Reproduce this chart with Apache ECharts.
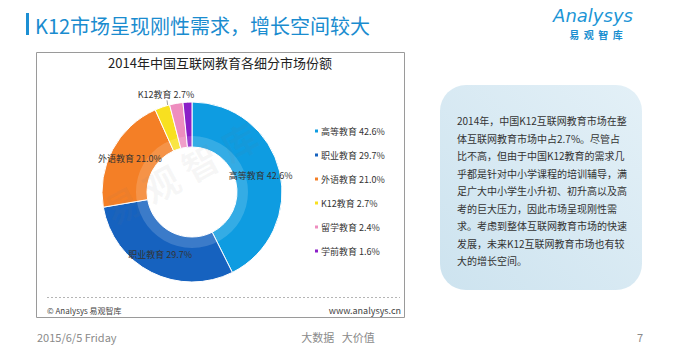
<!DOCTYPE html>
<html>
<head>
<meta charset="utf-8">
<script src="https://cdn.jsdelivr.net/npm/echarts@6/dist/echarts.min.js"></script>
<style>
  html, body { margin: 0; padding: 0; background: #ffffff; }
  #main { width: 679px; height: 355px; }
</style>
</head>
<body>
<div id="main"></div>
<script>
// ---- data ----
const categories = ['高等教育', '职业教育', '外语教育', 'K12教育', '留学教育', '学前教育'];
const shares = [42.6, 29.7, 21.0, 2.7, 2.4, 1.6];
const sliceColors = ['#0e9ce1', '#1662bf', '#f47f26', '#f8e020', '#ee8dbf', '#8b1ec8'];
const insideLabelShown = [true, true, true, false, false, false];
const outsideLabelIndex = 3;

const pageTitle = 'K12市场呈现刚性需求，增长空间较大';
const chartTitle = '2014年中国互联网教育各细分市场份额';
const paragraphLines = [
  '2014年，中国K12互联网教育市场在整',
  '体互联网教育市场中占2.7%。尽管占',
  '比不高，但由于中国K12教育的需求几',
  '乎都是针对中小学课程的培训辅导，满',
  '足广大中小学生小升初、初升高以及高',
  '考的巨大压力，因此市场呈现刚性需',
  '求。考虑到整体互联网教育市场的快速',
  '发展，未来K12互联网教育市场也有较',
  '大的增长空间。'
];

const FONT = '"Noto Sans CJK SC", "Noto Sans", sans-serif';
const fmt = (i) => categories[i] + ' ' + shares[i].toFixed(1) + '%';

const chart = echarts.init(document.getElementById('main'), null, { renderer: 'svg' });

const pieData = categories.map((name, i) => {
  const item = { name: name, value: shares[i], itemStyle: { color: sliceColors[i] } };
  if (i === outsideLabelIndex) {
    item.label = { show: true, position: 'outside' };
    item.labelLine = { show: true, length: 6, length2: 0, lineStyle: { color: '#777', width: 0.7 } };
  } else {
    item.label = { show: insideLabelShown[i], position: 'inside' };
    item.labelLine = { show: false };
  }
  return item;
});

const option = {
  backgroundColor: '#ffffff',
  animation: false,
  textStyle: { fontFamily: FONT },
  legend: {
    orient: 'vertical',
    left: 308,
    top: 121,
    itemWidth: 5,
    itemHeight: 5,
    itemGap: 14,
    icon: 'rect',
    data: categories,
    formatter: (name) => fmt(categories.indexOf(name)),
    textStyle: { fontSize: 9, color: '#333', lineHeight: 10, fontFamily: FONT, padding: [0, 0, 0, -3] }
  },
  series: [
    {
      type: 'pie',
      center: [192, 192],
      radius: [45, 90],
      startAngle: 90,
      clockwise: true,
      avoidLabelOverlap: false,
      itemStyle: { borderColor: '#ffffff', borderWidth: 1 },
      label: {
        fontSize: 9,
        color: '#333',
        fontFamily: FONT,
        formatter: (p) => fmt(p.dataIndex)
      },
      labelLayout: (p) => {
        if (p.dataIndex !== outsideLabelIndex) return {};
        const cx = p.rect.x + p.rect.width / 2;
        return {
          x: cx - 2,
          y: p.rect.y - 10,
          align: 'center',
          verticalAlign: 'middle',
          labelLinePoints: [[cx - 1, p.rect.y - 4], [cx + 1, p.rect.y + 10], [cx + 4, p.rect.y + 25]]
        };
      },
      emphasis: { disabled: true },
      data: pieData
    },
    {
      type: 'pie',
      center: [192, 192],
      radius: [45, 56],
      startAngle: 90,
      silent: true,
      label: { show: false },
      labelLine: { show: false },
      itemStyle: { color: 'rgba(255,255,255,0.16)' },
      emphasis: { disabled: true },
      data: [{ value: 1, name: '' }],
      legendHoverLink: false
    }
  ],
  graphic: [
    // page title
    { type: 'rect', shape: { x: 26, y: 13, width: 3, height: 22 }, style: { fill: '#1c8fd3' } },
    { type: 'text', x: 35, y: 25, style: { text: pageTitle, font: '20px ' + FONT, fill: '#1a8ccf', verticalAlign: 'middle' } },
    // logo
    { type: 'text', x: 593, y: 15, style: { text: 'Analysys', font: 'italic 18px "DejaVu Sans", sans-serif', fill: '#1b95d6', align: 'center', verticalAlign: 'middle' } },
    { type: 'text', x: 596, y: 34, style: { text: '易  观  智  库', font: 'bold 10px ' + FONT, fill: '#1b8fd0', align: 'center', verticalAlign: 'middle' } },
    // chart box
    { type: 'rect', z: -10, shape: { x: 36.5, y: 52.5, width: 368, height: 265 }, style: { fill: 'none', stroke: '#9a9a9a', lineWidth: 1 } },
    { type: 'text', x: 220, y: 62, style: { text: chartTitle, font: '13px ' + FONT, fill: '#222', align: 'center', verticalAlign: 'middle' } },
    { type: 'line', shape: { x1: 47, y1: 297.5, x2: 400, y2: 297.5 }, style: { stroke: '#b5b5b5', lineWidth: 1, lineDash: [2, 2] } },
    { type: 'text', x: 47, y: 310, style: { text: '© Analysys 易观智库', font: '8px ' + FONT, fill: '#444', verticalAlign: 'middle' } },
    { type: 'text', x: 401, y: 310, style: { text: 'www.analysys.cn', font: '9px ' + FONT, fill: '#444', align: 'right', verticalAlign: 'middle' } },
    // watermark
    { type: 'text', x: 180, y: 172, rotation: 0.5, z: 100, style: { text: '易 观 智 库', font: 'bold 36px ' + FONT, fill: 'rgba(120,120,120,0.06)', align: 'center', verticalAlign: 'middle' } },
    // text box
    { type: 'rect', z: -10, shape: { x: 440, y: 85, width: 202, height: 205, r: 26 },
      style: { fill: new echarts.graphic.LinearGradient(1, 0, 0, 1, [{ offset: 0, color: '#e3f0f7' }, { offset: 1, color: '#cde3ef' }]) } },
    { type: 'text', x: 457, y: 112, style: { text: paragraphLines.join('\n'), font: '10px ' + FONT, lineHeight: 17.5, fill: '#333', verticalAlign: 'top' } },
    // slide footer
    { type: 'text', x: 37, y: 337, style: { text: '2015/6/5 Friday', font: '11px ' + FONT, fill: '#8a8a8a', verticalAlign: 'middle' } },
    { type: 'text', x: 338, y: 337, style: { text: '大数据   大价值', font: '11px ' + FONT, fill: '#8a8a8a', align: 'center', verticalAlign: 'middle' } },
    { type: 'text', x: 640, y: 337, style: { text: '7', font: '11px ' + FONT, fill: '#8a8a8a', align: 'center', verticalAlign: 'middle' } }
  ]
};

chart.setOption(option);
</script>
</body>
</html>
